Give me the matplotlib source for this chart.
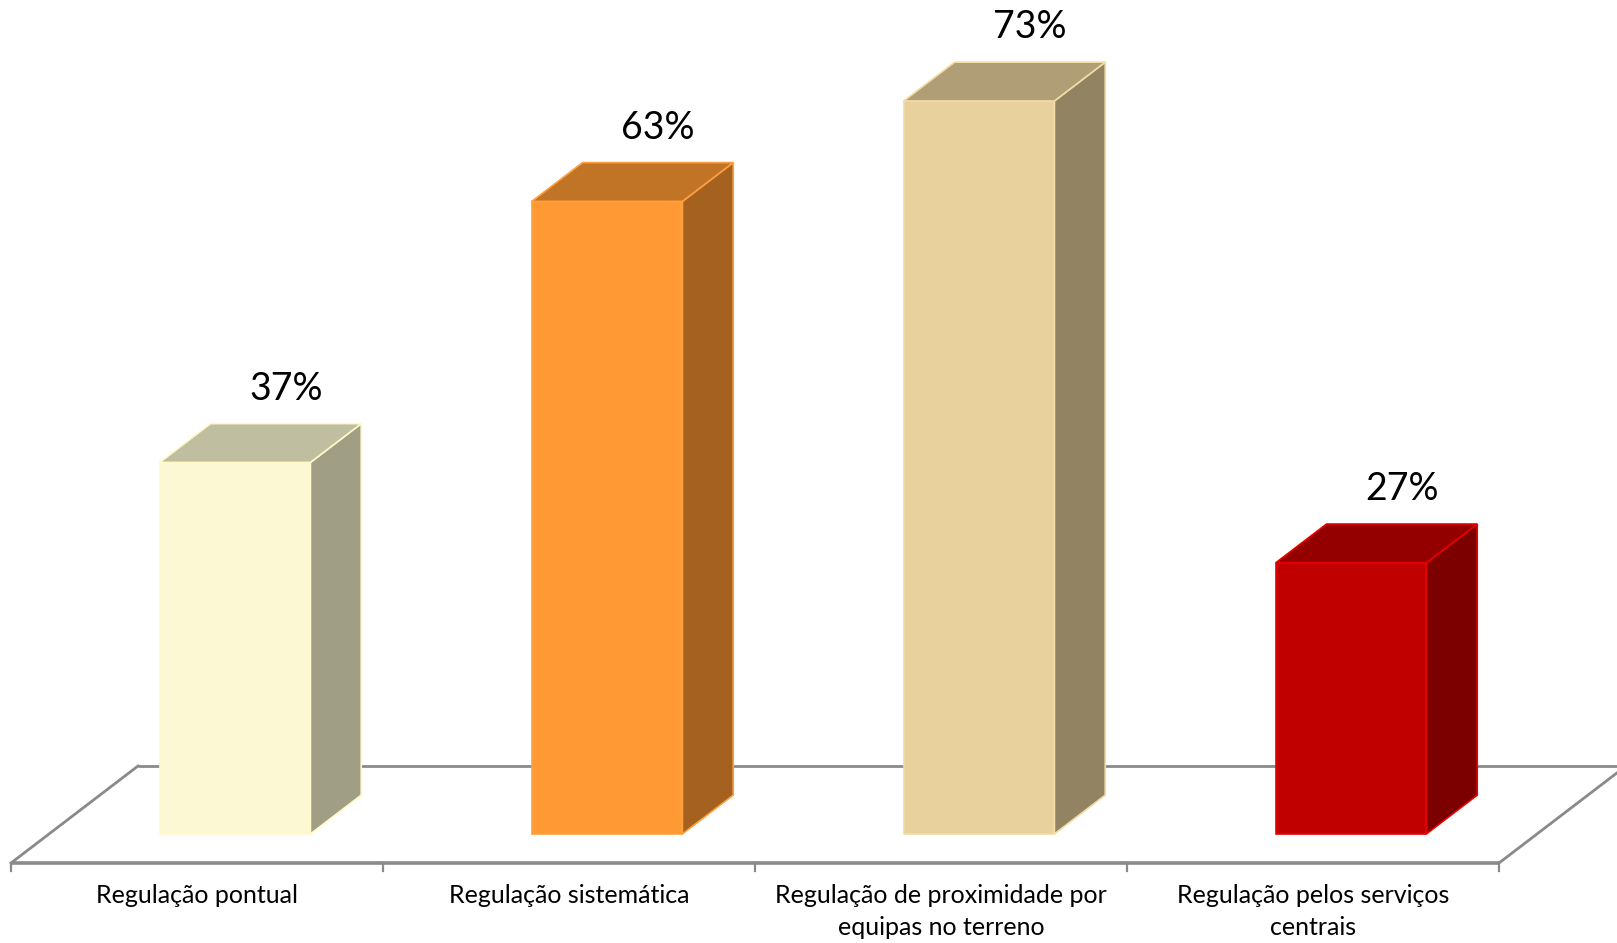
import numpy as np
import matplotlib.pyplot as plt
from matplotlib.patches import Polygon

# data
categories = ["Regulação pontual",
              "Regulação sistemática",
              "Regulação de proximidade por\nequipas no terreno",
              "Regulação pelos serviços\ncentrais"]
values = [37, 63, 73, 27]
value_labels = ["37%", "63%", "73%", "27%"]

front_colors = ["#FCF8D4", "#FF9933", "#E8D19C", "#C00000"]
side_colors = ["#A09F85", "#A4611F", "#928463", "#7C0000"]
top_colors = ["#C0BEA0", "#C27426", "#B09E76", "#940000"]
edge_colors = ["#FFF9C8", "#FFA040", "#F2DCA6", "#E80000"]

# fake 3d: depth axis is a shear in data units
DEPTH_X = 127 / 372      # category units per unit of depth
DEPTH_Y = 97 / 10.04     # percent units per unit of depth
BAR_W = 0.405
Z0, Z1 = 0.3, 0.7        # bar depth range inside the floor
FLOOR_GRAY = "#8A8A8A"


def proj(c, v, z):
    return c + z * DEPTH_X, v + z * DEPTH_Y


fig = plt.figure(figsize=(16.17, 9.43), dpi=100)
ax = fig.add_axes([0, 0, 1, 1])
ax.set_xlim(-11 / 372, (1617 - 11) / 372)
ax.set_ylim(-80 / 10.04, 863 / 10.04)
ax.axis("off")

n = len(categories)

# floor outline
back = [proj(0, 0, 1), proj(n, 0, 1)]
ax.plot([p[0] for p in back], [p[1] for p in back], color=FLOOR_GRAY, lw=2, zorder=1,
        solid_capstyle="butt")
for c in (0, n):
    a, b = proj(c, 0, 0), proj(c, 0, 1)
    ax.plot([a[0], b[0]], [a[1], b[1]], color=FLOOR_GRAY, lw=2, zorder=1)
ax.plot([0, n], [0, 0], color=FLOOR_GRAY, lw=2.6, zorder=1, solid_capstyle="butt")
for c in range(n + 1):
    ax.plot([c, c], [0, -0.8], color=FLOOR_GRAY, lw=1.6, zorder=1)

# bars
for i, v in enumerate(values):
    x0 = i + 0.5 - BAR_W / 2
    x1 = i + 0.5 + BAR_W / 2
    front = [proj(x0, 0, Z0), proj(x1, 0, Z0), proj(x1, v, Z0), proj(x0, v, Z0)]
    side = [proj(x1, 0, Z0), proj(x1, 0, Z1), proj(x1, v, Z1), proj(x1, v, Z0)]
    top = [proj(x0, v, Z0), proj(x1, v, Z0), proj(x1, v, Z1), proj(x0, v, Z1)]
    ax.add_patch(Polygon(front, closed=True, facecolor=front_colors[i],
                         edgecolor=edge_colors[i], lw=1.2, zorder=3))
    ax.add_patch(Polygon(side, closed=True, facecolor=side_colors[i],
                         edgecolor=edge_colors[i], lw=1.2, zorder=3))
    ax.add_patch(Polygon(top, closed=True, facecolor=top_colors[i],
                         edgecolor=edge_colors[i], lw=1.2, zorder=4))

    lx, ly = proj(i + 0.5, v, Z1)
    ax.annotate(value_labels[i], xy=(lx, ly), xytext=(0, 24), textcoords="offset pixels",
                ha="center", va="baseline", fontsize=27, family="Lato", color="black")

    ax.annotate(categories[i], xy=(i + 0.5, 0), xytext=(0, -21), textcoords="offset pixels",
                ha="center", va="top", fontsize=18, family="Lato", color="black",
                linespacing=1.45)

fig.savefig("out.png", dpi=100)
